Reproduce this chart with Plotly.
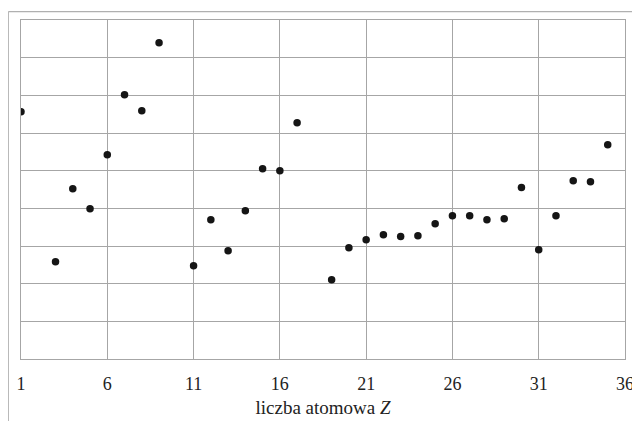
import plotly.graph_objects as go

Z = [1, 3, 4, 5, 6, 7, 8, 9, 11, 12, 13, 14, 15, 16, 17, 19, 20, 21, 22, 23, 24, 25, 26, 27, 28, 29, 30, 31, 32, 33, 34, 35]
energy = [1313, 517, 904, 798, 1085, 1403, 1318, 1679, 495, 740, 575, 787, 1010, 1000, 1255,
          421, 591, 633, 660, 650, 655, 718, 761, 761, 740, 745, 910, 580, 761, 947, 941, 1138]
x_ticks = [1, 6, 11, 16, 21, 26, 31, 36]
y_grid = list(range(0, 1801, 200))

# page body has an 8px margin: the figure occupies page (8..640, 8..421)
OFF = 8
W, H = 640 - OFF, 421 - OFF
L, T = 21.3 - OFF, 20.3 - OFF
R, B = 640 - 624.7, 421 - 359.3
pw, ph = W - L - R, H - T - B

fig = go.Figure(go.Scatter(
    x=Z, y=energy, mode="markers",
    marker=dict(color="#151515", size=7.5, line=dict(width=0)),
    hoverinfo="skip",
))

serif = "Liberation Serif, Times New Roman, DejaVu Serif, serif"
grid = "#a6a6a6"
fig.update_xaxes(
    range=[1, 36], tickvals=x_ticks, ticktext=[str(v) for v in x_ticks],
    showgrid=True, gridcolor=grid, gridwidth=1,
    showline=True, linecolor=grid, linewidth=1, mirror=True,
    zeroline=False, ticks="", ticklabelstandoff=8,
    tickfont=dict(family=serif, size=18, color="#222"),
    title=dict(text="liczba atomowa <i>Z</i>", standoff=8,
               font=dict(family=serif, size=19, color="#222")),
)
fig.update_yaxes(
    range=[0, 1800], tickvals=y_grid, showticklabels=False,
    showgrid=True, gridcolor=grid, gridwidth=1,
    showline=True, linecolor=grid, linewidth=1, mirror=True,
    zeroline=False, ticks="",
)

fx0 = (0.6 - L) / pw
fy1 = 1 + (T - (12 - OFF)) / ph
fig.add_shape(type="line", xref="paper", yref="paper", x0=fx0, x1=fx0, y0=-0.3, y1=fy1,
              line=dict(color="#b0b0b0", width=1.2))
fig.add_shape(type="line", xref="paper", yref="paper", x0=fx0, x1=1.1, y0=fy1, y1=fy1,
              line=dict(color="#b0b0b0", width=1.2))

fig.update_layout(
    width=W, height=H, margin=dict(l=L, r=R, t=T, b=B, autoexpand=False),
    paper_bgcolor="white", plot_bgcolor="white", showlegend=False,
)
fig.write_html("out.html")
